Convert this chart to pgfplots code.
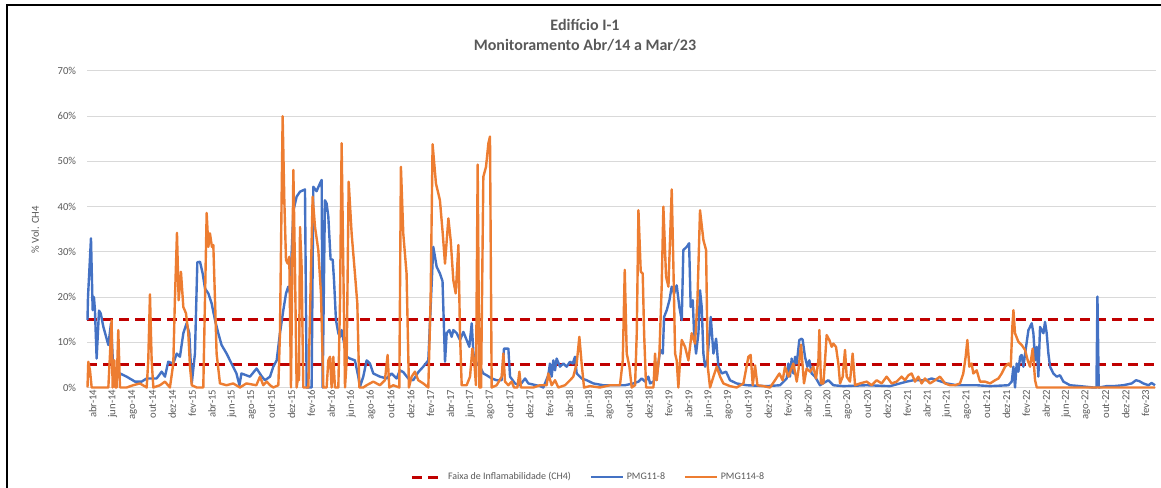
\documentclass[border=0pt]{standalone}
\usepackage{fontspec}
\setmainfont{Carlito}
\usepackage{pgfplots}
\pgfplotsset{compat=1.18}
\definecolor{xblue}{HTML}{4472C4}
\definecolor{xorange}{HTML}{ED7D31}
\definecolor{xred}{HTML}{C00000}
\definecolor{xgray}{HTML}{595959}
\definecolor{xgrid}{HTML}{D9D9D9}
\begin{document}
\begin{tikzpicture}[x=0.75pt,y=0.75pt]
\useasboundingbox (-87.5,-100.5) rectangle (1073.5,387.5);
\draw[line width=1.5pt] (-80.5,-101) -- (-80.5,382.5) -- (1074,382.5);
\begin{axis}[
  at={(0,0)}, anchor=south west, scale only axis,
  width=801.4pt, height=237.4pt,
  xmin=0, xmax=107.6, ymin=0, ymax=70,
  clip=false,
  axis line style={draw=none},
  major tick length=0pt,
  ymajorgrids, grid style={xgrid, line width=0.8pt},
  xtick={0,2,...,106},
  xticklabels={abr-14,jun-14,ago-14,out-14,dez-14,
fev-15,abr-15,jun-15,ago-15,out-15,dez-15,
fev-16,abr-16,jun-16,ago-16,out-16,dez-16,
fev-17,abr-17,jun-17,ago-17,out-17,dez-17,
fev-18,abr-18,jun-18,ago-18,out-18,dez-18,
fev-19,abr-19,jun-19,ago-19,out-19,dez-19,
fev-20,abr-20,jun-20,ago-20,out-20,dez-20,
fev-21,abr-21,jun-21,ago-21,out-21,dez-21,
fev-22,abr-22,jun-22,ago-22,out-22,dez-22,
fev-23},
  xticklabel style={rotate=90, anchor=east, font=\fontsize{8}{9}\selectfont, text=xgray, inner sep=1pt, xshift=-0.5pt, yshift=-4pt},
  ytick={0,10,...,70},
  yticklabels={0\%,10\%,20\%,30\%,40\%,50\%,60\%,70\%},
  yticklabel style={font=\fontsize{8}{9}\selectfont, text=xgray, xshift=-5pt},
  ylabel={\% Vol. CH4},
  ylabel style={at={(axis description cs:-0.049,0.498)}, anchor=center, font=\fontsize{8}{9}\selectfont, text=xgray},
  title={Edifício I-1\\[1.5pt]Monitoramento Abr/14 a Mar/23},
  title style={at={(axis description cs:0.4656,1.088)}, anchor=center, yshift=0pt, align=center, font=\bfseries\fontsize{12}{14}\selectfont, text=xgray},
  legend style={at={(axis description cs:0.469,-0.283)}, anchor=center, draw=none, fill=none, legend columns=3, font=\fontsize{7.5}{9}\selectfont, text=xgray, /tikz/every even column/.append style={column sep=12pt}},
  legend image code/.code={\draw[#1] (0pt,0pt) -- (24pt,0pt);},
]
\addplot[xred, line width=2.2pt, dash pattern=on 7.5pt off 4.5pt] coordinates {(0,5) (107.6,5)};
\addlegendentry{Faixa de Inflamabilidade (CH4)}
\addplot[xred, line width=2.2pt, dash pattern=on 7.5pt off 4.5pt, forget plot] coordinates {(0,15) (107.6,15)};
\addplot[xblue, line width=1.8pt, line join=round] coordinates {
(0,14.9) (0.05,20) (0.35,33) (0.52,17.1) (0.65,20) (0.75,17.1) (0.92,6.4) (1.16,17) (1.33,16.4) (1.6,13.4) (2.1,9.4) (2.37,14.2) (2.6,3.8) (3.27,3.1) (3.94,2.4) (4.78,1.3) (5.45,1.3) (5.96,2) (6.96,2) (7.47,3.5) (7.8,2.4) (8.13,5.7) (8.64,5.3) (8.98,7.5) (9.31,6.8) (9.65,12) (9.98,14.2) (10.25,12) (10.5,0.9) (10.82,7.5) (11.06,27.7) (11.33,27.8) (11.6,25.2) (11.83,21.9) (12.17,20.8) (12.5,18.6) (12.84,14.9) (13.17,12) (13.5,9.4) (14.01,7.5) (14.5,5.3) (15,3.1) (15.3,0.5) (15.5,3.1) (16.36,2.4) (17.03,4.2) (17.53,2.5)
(17.87,1.6) (18.38,2.4) (18.71,4.6) (19.05,6) (19.38,12) (19.72,17.1) (19.99,20.8) (20.22,22.3) (20.39,20.8) (20.73,39.1) (21.06,42.2) (21.4,43.3) (21.9,43.8) (22.07,0) (22.57,0) (22.74,44.4) (23.07,43.4) (23.34,44.8) (23.58,45.9) (23.68,0) (23.91,41.4) (24.08,40.7) (24.25,37.8) (24.48,28.3) (24.69,28.3) (24.82,23.9) (25.02,14.9) (25.26,12) (25.43,11.2) (25.59,12.7) (26.1,6.8) (26.43,6.4) (26.93,6) (27.27,2.4) (27.44,0.2) (27.77,2.4) (28.11,6) (28.44,5.3) (28.78,3.1) (29.45,2.4) (30.12,2) (30.62,3.1) (31.13,2) (31.46,3.8) (31.8,3.4) (32.3,2) (32.8,1.6) (33.31,3.4) (33.81,4.6) (34.32,6) (34.82,31.1) (35.16,26.7) (35.49,25.2) (35.75,23.5)
(36,5.7) (36.17,12) (36.44,12.7) (36.67,11.2) (36.84,12.7) (37.18,12) (37.51,10.5) (37.85,12.3) (38.18,10.5) (38.45,9) (38.69,14.2) (38.86,7.5) (39.19,5.3) (39.53,4.6) (39.86,3.1) (40.2,2.7) (40.7,2) (41.2,1.6) (41.71,1.6) (41.94,8.6) (42.38,8.6) (42.55,2.4) (43.05,0.9) (43.55,0.5) (44.06,2) (44.39,0.9) (45.57,0.3) (45.9,0) (46.4,2.7) (46.57,5.3) (46.74,2.4) (46.91,6) (47.08,3.8) (47.24,6.4) (47.58,4.6) (47.92,5.3) (48.25,4.6) (48.59,5.7) (48.86,5.3) (49.09,6.8) (49.26,3.1) (49.76,2) (50.27,1.6) (50.94,0.9) (51.94,0.5) (52.95,0.5) (54.12,0.5)
(54.97,0.9) (55.48,1.3) (55.81,2) (56.15,1.3) (56.48,2.4) (56.65,0.9) (56.99,1.3) (57.32,2.4) (57.66,8.3) (57.93,7.5) (58.06,15.6) (58.33,17.1) (58.6,19.3) (58.83,22.3) (59.07,20.8) (59.33,22.6) (59.6,17.8) (59.84,14.9) (60,30.4) (60.34,31.1) (60.58,31.9) (60.74,17.8) (60.95,19.3) (61.08,12) (61.28,7.5) (61.52,12) (61.68,21.5) (61.85,17.8) (62.02,7.5) (62.19,4.6) (62.42,6) (62.76,15.6) (63.03,7.5) (63.3,10.8) (63.53,4.6) (63.87,3.1) (64.3,3.5) (64.7,1.6) (65.37,0.9) (66.38,0.5) (68.39,0.3) (69.74,0.5) (70.41,2) (70.58,5.3) (70.74,2.4) (70.91,6.4) (71.08,3.1) (71.25,6.8) (71.42,5.3) (71.68,10.5) (71.92,10.8)
(72.02,10.5) (72.25,6.8) (72.49,4.6) (72.69,6) (72.92,3.1) (73.26,2.4) (73.76,0.5) (74.6,1.6) (75.1,0.5) (76.11,0.3) (78.46,0.5) (80.81,0.3) (81.82,0.9) (82.49,1.3) (83.16,1.6) (84.5,1.6) (85,2) (86.52,0.9) (87.52,0.5) (88.53,0.5) (89.54,0.5)
(90.89,0.3) (92.73,0.5) (93.07,1.3) (93.24,4.6) (93.4,0) (93.57,5.3) (93.74,3.5) (93.91,6.8) (94.07,7.2) (94.24,4.6) (94.51,9) (94.75,12.7) (94.91,13.4) (95.08,14.2) (95.25,12) (95.42,6) (95.59,9) (95.75,2.4) (95.92,13.4) (96.09,12.7) (96.26,12) (96.42,14.5) (96.59,12) (96.76,7.5) (96.93,4.6) (97.26,3.1) (97.6,2.4) (97.93,2.7) (98.27,1.3) (98.94,0.5) (99.95,0.3) (101.29,0) (101.6,0) (101.7,20.1) (101.83,0) (102.63,0.3) (103.3,0.3) (104.31,0.5) (105.15,0.9) (105.58,1.6) (105.92,1.4) (106.32,0.9) (106.83,0.5) (107.16,1) (107.5,0.5)
};
\addlegendentry{PMG11-8}
\addplot[xorange, line width=1.8pt, line join=round] coordinates {
(0,0) (0.08,5.7) (0.25,3.8) (0.42,0) (1.26,0) (2.1,0) (2.27,7.5) (2.43,14.9) (2.53,0) (2.7,6) (2.8,0) (2.93,0) (3.1,12.7) (3.27,0) (3.94,0) (4.6,0.5) (5.28,0.9) (5.96,0) (6.12,6) (6.29,20.6) (6.46,6) (6.63,0) (7.3,0.5) (7.8,1.3) (8.3,0) (8.64,5.3) (8.8,19.3) (9.01,34.2) (9.18,19.3) (9.41,25.6) (9.65,17.8) (9.92,16.4) (10.15,12) (10.32,4.6) (10.5,0.5) (11,0) (11.66,0) (11.83,19.3) (12,38.6) (12.17,31.1) (12.33,34.1) (12.53,31.1) (12.67,31.5) (12.84,19.3) (13,7.5) (13.34,0.9) (14,0.5) (14.67,0.9) (15.35,0) (16,0.9) (17,0.5)
(17.37,2.4) (17.7,0.5) (18.05,1.3) (18.38,0.5) (18.71,0) (19.22,0.5) (19.38,12) (19.65,60) (19.82,41.4) (19.99,28.2) (20.16,27.4) (20.32,28.9) (20.49,0) (20.73,48.1) (20.89,26.7) (21.06,0) (21.16,1.6) (21.3,1.6) (21.4,35.5) (21.56,26.7) (21.73,0) (22.24,0) (22.67,42.2) (22.91,35.5) (23.24,30.4) (23.51,20.8) (23.75,0) (24.08,0) (24.25,6) (24.42,6.8) (24.58,0) (24.75,6.8) (24.92,0) (25.26,0) (25.43,19.3) (25.59,54) (25.76,26.7) (25.93,0) (26.1,6) (26.3,45.5) (26.6,34) (26.93,25.2) (27.17,18.6) (27.37,0) (27.77,0) (28.11,0.5) (28.78,1.3) (29.45,0.5) (29.95,1.6) (30.22,7.2) (30.39,0) (30.79,0.5) (31.4,0) (31.56,48.8) (31.8,34) (32.13,25.2) (32.37,0) (32.64,2.4) (32.97,3.5) (33.31,1.6) (33.81,0.9) (34.32,0) (34.55,19.3) (34.75,53.8) (35.09,45.1) (35.49,41.4)
(35.77,34.1) (36,27.4) (36.34,37.4) (36.57,32.6) (36.84,23.7) (37.08,20.8) (37.35,31.5) (37.51,12) (37.68,0.5) (38.18,0.5) (38.52,2.4) (38.76,8.6) (38.96,5.3) (39.12,0.5) (39.29,49.3) (39.46,0) (39.63,0) (39.86,46.6) (40.13,48.8) (40.37,54) (40.53,55.5) (40.7,0) (41.2,0.5) (41.71,2.4) (41.88,7.5) (42.04,1.3) (42.38,0.5) (42.71,1.3) (42.95,0) (43.29,0) (43.49,3.5) (43.65,0) (44.22,0) (44.9,0) (45.57,0.5) (46.24,0.5) (46.4,3.1) (46.74,0.5) (47.08,1.6) (47.41,0) (48.08,0.5) (48.59,1.6) (48.92,2.4) (49.26,5.3) (49.53,11.2) (49.76,5.3) (50,0) (50.6,0.3) (51.6,0) (52.61,0.5) (53.62,0.5)
(53.9,6) (54.1,26) (54.3,7.5) (54.57,4.6) (54.8,0) (55.14,0.5) (55.31,12) (55.48,39.2) (55.71,25.6) (55.91,25.2) (56.05,12) (56.25,0) (56.65,0) (56.99,0) (57.15,7.5) (57.32,1.6) (57.59,7.5) (57.82,22.3) (57.99,40) (58.26,24.5) (58.5,22.3) (58.66,32.6) (58.83,43.8) (59,26.7) (59.17,7.5) (59.33,6) (59.5,0) (59.67,6) (59.84,10.5) (60.17,9) (60.51,6) (60.84,12) (61.18,9.7) (61.42,19.3) (61.68,39.2) (62.02,32.6) (62.29,30.4) (62.46,4.6) (62.69,0) (63.03,2.4) (63.36,4.6) (63.7,2.4) (64.03,0.9) (64.7,0.3) (65.37,0) (66.05,0.9) (66.55,6.8) (66.78,7.2) (66.99,0.5) (67.22,4.9) (67.46,0.5) (68.06,0.3) (68.73,0) (69.23,1.6) (69.67,3.1) (70,1.6) (70.24,4.6) (70.58,2.4) (71.08,5.3) (71.42,1.3) (71.6,4) (71.85,9.5)
(72.15,0.9) (72.42,4.2) (72.76,3.5) (73.09,4.6) (73.36,2) (73.6,6) (73.7,12.7) (73.86,0.9) (74.1,0.9) (74.27,6) (74.43,11.6) (74.7,10.5) (74.94,9) (75.1,9.7) (75.37,9) (75.61,5.3) (75.78,0.9) (76.05,2.4) (76.28,8.3) (76.45,2.4) (76.78,1.3) (77.05,7.5) (77.29,0.5) (77.79,0.9) (78.46,1.3) (78.96,0.5) (79.47,1.6) (79.97,0.9) (80.47,2.4) (80.98,0.9) (81.48,1.3) (81.98,2.4) (82.32,1.6) (82.66,2.7) (82.99,3.1) (83.33,1.3) (83.66,2.4) (84,0.9) (84.33,2) (84.84,0.9) (85.34,1.6) (85.84,2.4) (86.35,0.9) (86.85,0.5) (87.36,0.5) (87.86,0.9) (88.19,3.1) (88.43,6.8) (88.6,10.5) (88.8,4.6) (89.03,5.3) (89.2,3.1) (89.54,3.8) (89.87,1.3)
(90.38,1.3) (90.89,0.9) (91.39,1.6) (91.73,2) (92.06,3.1) (92.4,4.6) (92.73,5.3) (92.97,4.6) (93.13,13.4) (93.24,17.1) (93.4,12) (93.74,10.1) (94.07,9.4) (94.41,8.3) (94.68,6) (94.91,4.6) (95.18,8.6) (95.42,1.6) (95.59,0) (98.6,0) (101.6,0) (105,0) (107.5,0)
};
\addlegendentry{PMG114-8}
\end{axis}
\end{tikzpicture}
\end{document}
